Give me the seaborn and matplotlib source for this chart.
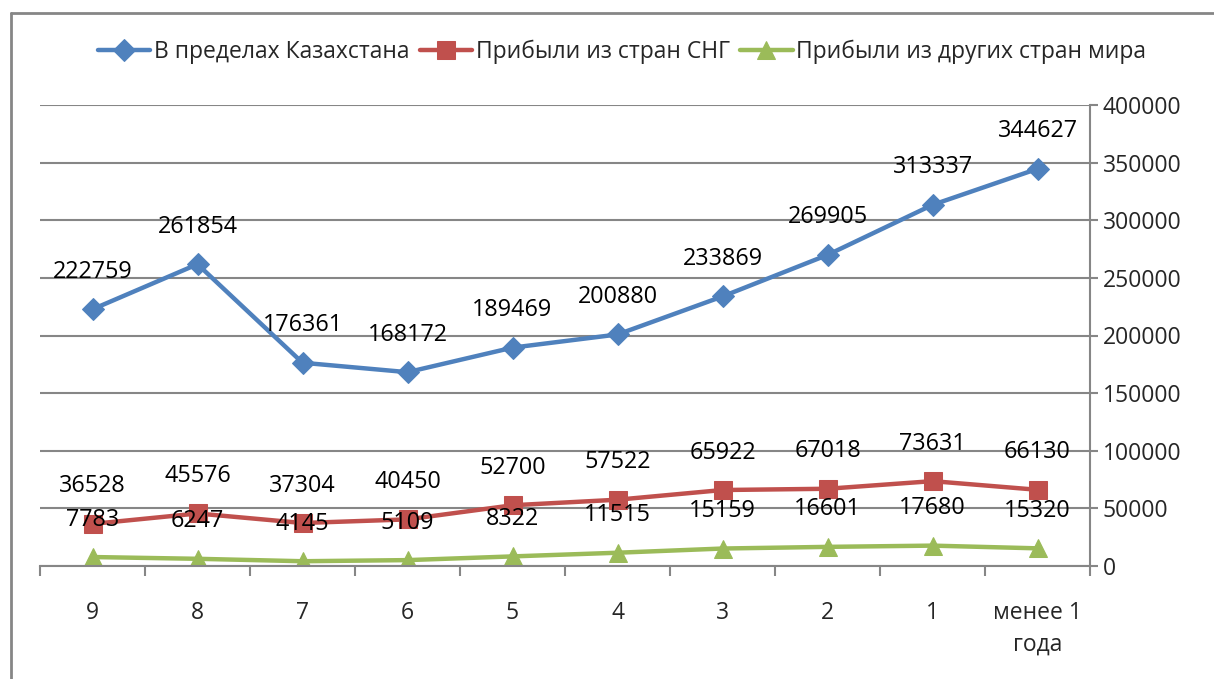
import matplotlib
matplotlib.use("Agg")
import matplotlib.pyplot as plt
import seaborn as sns
import pandas as pd
from matplotlib.lines import Line2D
from matplotlib.ticker import FixedLocator

categories = ["9", "8", "7", "6", "5", "4", "3", "2", "1", "менее 1\nгода"]
kazakhstan = [222759, 261854, 176361, 168172, 189469, 200880, 233869, 269905, 313337, 344627]
cis = [36528, 45576, 37304, 40450, 52700, 57522, 65922, 67018, 73631, 66130]
other = [7783, 6247, 4145, 5109, 8322, 11515, 15159, 16601, 17680, 15320]
series_names = ["В пределах Казахстана", "Прибыли из стран СНГ", "Прибыли из других стран мира"]
y_ticks = [0, 50000, 100000, 150000, 200000, 250000, 300000, 350000, 400000]

sns.set_style("white")
plt.rcParams["font.family"] = ["Open Sans", "DejaVu Sans"]

fig = plt.figure(figsize=(12.14, 6.79), dpi=100)
ax = fig.add_axes([40/1214, 1-566/679, 1050/1214, (566-105)/679])

colors = ["#4F81BD", "#C0504D", "#9BBB59"]
markers = ["D", "s", "^"]
msizes = [11, 13, 13]
x = list(range(len(categories)))
for vals, name, c, m, ms in zip([kazakhstan, cis, other], series_names, colors, markers, msizes):
    df = pd.DataFrame({"x": x, "y": vals})
    sns.lineplot(data=df, x="x", y="y", ax=ax, color=c, linewidth=3.2, marker=m,
                 markersize=ms, markeredgecolor=c, label=name, sort=False)
    for xi, v in zip(x, vals):
        ax.annotate(str(v), (xi, v), xytext=(0, 27), textcoords="offset points",
                    ha="center", va="center", fontsize=16.8, color="black")

ax.set_xlim(-0.5, len(categories) - 0.5)
ax.set_ylim(0, 400000)
ax.set_xticks(x)
ax.set_xticklabels(categories, fontsize=16.5, va="top", linespacing=1.45)
ax.xaxis.set_minor_locator(FixedLocator([i - 0.5 for i in range(len(categories) + 1)]))
ax.tick_params(axis="x", which="major", length=0, pad=25)
ax.tick_params(axis="x", which="minor", length=7, width=1.5, color="#868686", direction="out", bottom=True)

ax.yaxis.tick_right()
ax.set_yticks(y_ticks)
ax.set_yticklabels([str(t) for t in y_ticks], fontsize=16.5)
ax.tick_params(axis="y", which="major", right=True, left=False, length=6, width=1.5,
               color="#868686", direction="out", pad=3)
ax.grid(axis="y", color="#868686", linewidth=1.5)
ax.set_axisbelow(True)
ax.set_xlabel("")
ax.set_ylabel("")
for s in ["top", "left"]:
    ax.spines[s].set_visible(False)
for s in ["right", "bottom"]:
    ax.spines[s].set_color("#868686")
    ax.spines[s].set_linewidth(1.5)

handles, labels = ax.get_legend_handles_labels()
ax.get_legend().remove()
fig.legend(handles, labels, loc="center", bbox_to_anchor=(622/1214, 1-52/679), ncol=3,
           frameon=False, fontsize=16.5, handlelength=2.3, columnspacing=0.45, handletextpad=0.15,
           borderpad=0, borderaxespad=0)

bx = 10.5/1214
by = 1 - 12.5/679
fig.lines.append(Line2D([bx, 1.0], [by, by], transform=fig.transFigure, color="#868686", linewidth=2))
fig.lines.append(Line2D([bx, bx], [0.0, by], transform=fig.transFigure, color="#868686", linewidth=2))

fig.savefig("out.png", dpi=100)
